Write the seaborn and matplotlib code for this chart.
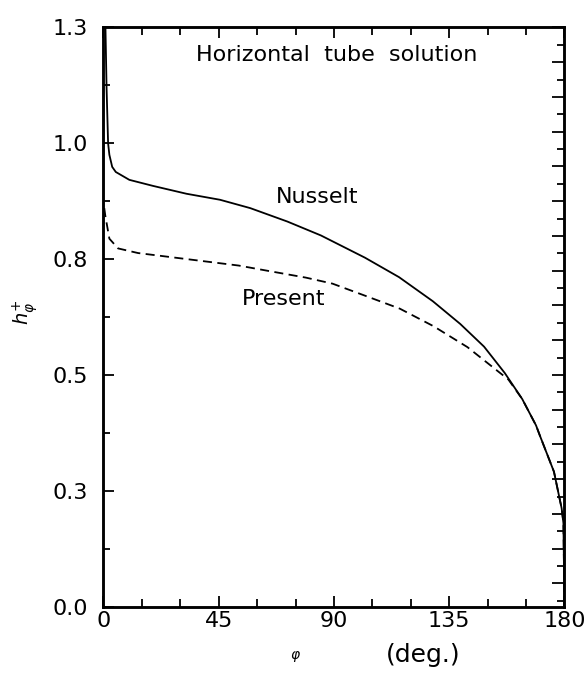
import numpy as np
import pandas as pd
import matplotlib
matplotlib.use("Agg")
import matplotlib.pyplot as plt
from matplotlib.ticker import MultipleLocator, FixedLocator
import seaborn as sns

# ---- data ----
phi_nusselt = [0.6, 1.2, 1.8, 2.3, 3.4, 4.8, 10.1, 19.3, 32.4, 45.5, 57.3, 71.8, 84.9,
               102.1, 115.4, 128.6, 139.3, 148.6, 156.7, 163.5, 168.9, 170.4, 175.9,
               178.9, 179.6, 180.0]
h_nusselt = [1.30, 1.12, 1.00, 0.975, 0.949, 0.938, 0.921, 0.908, 0.891, 0.878, 0.860,
             0.831, 0.801, 0.753, 0.711, 0.659, 0.610, 0.561, 0.504, 0.448, 0.391, 0.369,
             0.291, 0.212, 0.180, 0.0]

phi_present = [0.3, 0.7, 2.3, 5.7, 13.5, 26.6, 39.7, 52.8, 65.8, 79.0, 89.4, 102.6,
               115.7, 128.9, 142.1, 150.1, 158.1, 163.5, 168.9, 170.4, 175.9, 178.9,
               179.6, 180.0]
h_present = [0.860, 0.844, 0.794, 0.773, 0.763, 0.754, 0.745, 0.736, 0.723, 0.710, 0.697,
             0.670, 0.643, 0.605, 0.560, 0.525, 0.490, 0.448, 0.391, 0.369, 0.291, 0.212,
             0.180, 0.0]

xtick_vals = [0, 45, 90, 135, 180]
xtick_labels = ["0", "45", "90", "135", "180"]
ytick_vals = [0.0, 0.25, 0.5, 0.75, 1.0, 1.25]
ytick_labels = ["0.0", "0.3", "0.5", "0.8", "1.0", "1.3"]

title_text = "Horizontal  tube  solution"
label_nusselt = "Nusselt"
label_present = "Present"

df_n = pd.DataFrame({"phi": phi_nusselt, "h": h_nusselt})
df_p = pd.DataFrame({"phi": phi_present, "h": h_present})

sns.set_style("ticks")
plt.rcParams["font.family"] = ["DejaVu Sans"]
plt.rcParams["text.color"] = "black"
plt.rcParams["xtick.color"] = "black"
plt.rcParams["ytick.color"] = "black"
plt.rcParams["axes.edgecolor"] = "black"

fig = plt.figure(figsize=(5.87, 6.74), dpi=100)
ax = fig.add_axes([0.1763, 0.1001, 0.7853, 0.8592])

sns.lineplot(data=df_n, x="phi", y="h", ax=ax, color="black", linewidth=1.3,
             sort=False, estimator=None)
sns.lineplot(data=df_p, x="phi", y="h", ax=ax, color="black", linewidth=1.3,
             sort=False, estimator=None)
ax.lines[-1].set_dashes((5, 3))

ax.set_xlim(0, 180)
ax.set_ylim(0, 1.25)
ax.set_xlabel("")
ax.set_ylabel("")

ax.xaxis.set_major_locator(FixedLocator(xtick_vals))
ax.set_xticklabels(xtick_labels)
ax.xaxis.set_minor_locator(MultipleLocator(15))
ax.yaxis.set_major_locator(FixedLocator(ytick_vals))
ax.set_yticklabels(ytick_labels)
ax.yaxis.set_minor_locator(MultipleLocator(0.125))

for s in ax.spines.values():
    s.set_linewidth(1.8)
    s.set_color("black")

ax.tick_params(axis="both", which="both", direction="in", width=1.3, colors="black",
               labelsize=16, labelcolor="black")
ax.tick_params(axis="x", which="major", length=8, pad=3, top=True)
ax.tick_params(axis="x", which="minor", length=6, top=True)
ax.tick_params(axis="y", which="major", length=8, pad=11, right=False)
ax.tick_params(axis="y", which="minor", length=5, right=False)

# right-hand axis with its own fine tick marks
ax2 = ax.twinx()
ax2.set_ylim(0, 1.25)
ax2.yaxis.set_major_locator(FixedLocator(list(np.arange(1.25, 0.0, -0.075))))
ax2.yaxis.set_minor_locator(FixedLocator(list(np.arange(1.2125, 0.0, -0.075))))
ax2.tick_params(axis="y", which="major", direction="in", length=9, width=1.3,
                labelright=False, colors="black")
ax2.tick_params(axis="y", which="minor", direction="in", length=5, width=1.3,
                colors="black")
for s in ax2.spines.values():
    s.set_linewidth(1.8)
    s.set_color("black")

ax.text(91, 1.19, title_text, ha="center", va="center", fontsize=16, color="black")
ax.text(67.5, 0.885, label_nusselt, ha="left", va="center", fontsize=16, color="black")
ax.text(54.0, 0.663, label_present, ha="left", va="center", fontsize=16, color="black")

fig.text(25 / 587, 1 - 312 / 674, r"$h_{\varphi}^{+}$", rotation=90, ha="center",
         va="center", fontsize=14, color="black")
fig.text(295 / 587, 1 - 656 / 674, r"$\varphi$", ha="center", va="center", fontsize=10,
         color="black")
fig.text(423 / 587, 1 - 655 / 674, "(deg.)", ha="center", va="center", fontsize=18,
         color="black")

fig.savefig("out.png", dpi=100)
